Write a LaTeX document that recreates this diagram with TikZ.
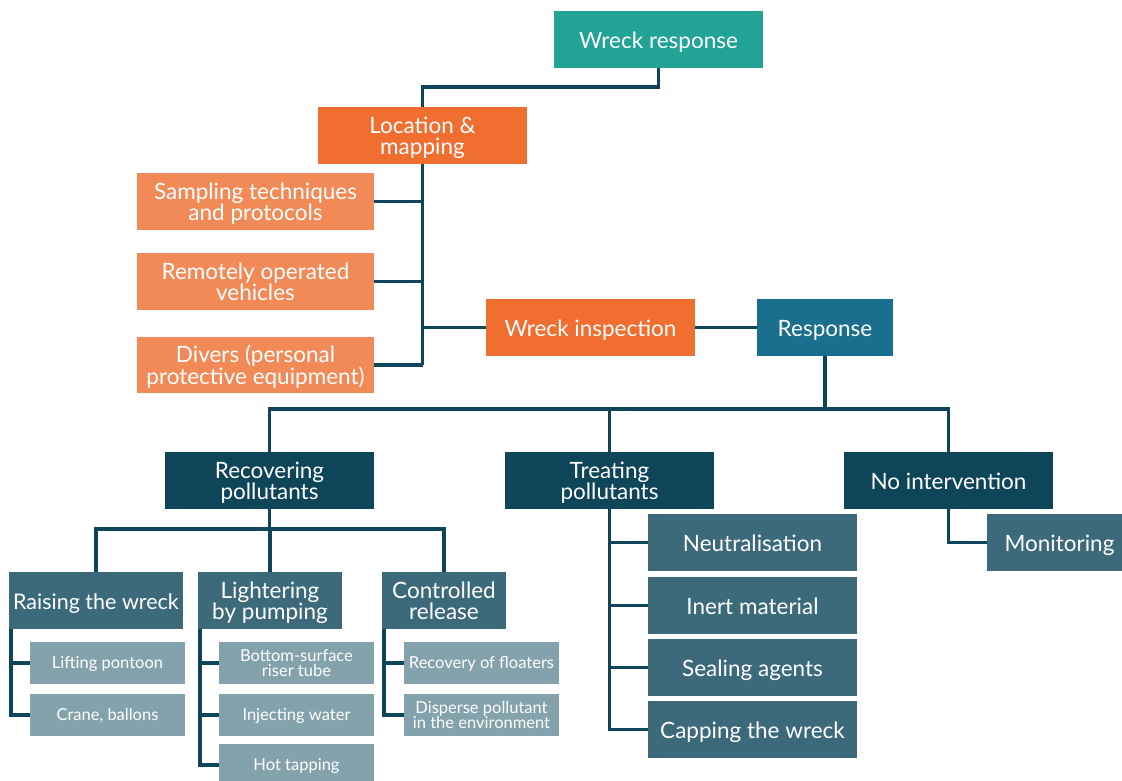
\documentclass[tikz,border=0pt]{standalone}
\usepackage{fontspec}
\setmainfont{Lato}
\definecolor{cteal}{HTML}{21A396}
\definecolor{corange}{HTML}{F06E30}
\definecolor{clorange}{HTML}{F28A58}
\definecolor{cresp}{HTML}{1A6E8E}
\definecolor{cdark}{HTML}{0E4559}
\definecolor{cmid}{HTML}{3D6A7B}
\definecolor{clight}{HTML}{84A2AC}
\definecolor{cline}{HTML}{0E4559}
% struts to place the text slightly below the box centre
\newcommand{\tA}{\rule{0pt}{23pt}}
\newcommand{\tB}{\rule[-6pt]{0pt}{6pt}}
\newcommand{\sA}{\rule{0pt}{16.5pt}}
\newcommand{\sB}{\rule[-5pt]{0pt}{5pt}}
\begin{document}
\begin{tikzpicture}[x=1pt,y=-1pt,
  box/.style={inner sep=0pt, outer sep=0pt, text=white, align=center, font=\fontsize{22.5}{21}\selectfont},
  sbox/.style={box, fill=clight, font=\fontsize{16.5}{15.5}\selectfont},
  sz/.style 2 args={minimum width=#1pt, minimum height=#2pt},
  conn/.style={draw=cline, line width=3.6pt}
]
\useasboundingbox (0,0) rectangle (1122,780);
% top
\node[box, fill=cteal, sz={209}{57}] (wr) at (658.5,39.5) {\tA Wreck response\tB};
\node[box, fill=corange, sz={209}{57}] (loc) at (422.5,135.5) {\tA Location \&\\mapping\tB};
\node[box, fill=clorange, sz={237}{57}] (samp) at (255.5,201.5) {\tA Sampling techniques\\and protocols\tB};
\node[box, fill=clorange, sz={237}{57}] (rov) at (255.5,281.5) {\tA Remotely operated\\vehicles\tB};
\node[box, fill=clorange, sz={237}{56}] (div) at (255.5,365) {\tA Divers (personal\\protective equipment)\tB};
\node[box, fill=corange, sz={209}{57}] (insp) at (590.5,327.5) {\tA Wreck inspection\tB};
\node[box, fill=cresp, sz={136}{57}] (resp) at (825,327.5) {\tA Response\tB};
% second level
\node[box, fill=cdark, sz={209}{57}] (rec) at (269.5,480.5) {\tA Recovering\\pollutants\tB};
\node[box, fill=cdark, sz={209}{57}] (treat) at (609.5,480.5) {\tA Treating\\pollutants\tB};
\node[box, fill=cdark, sz={209}{57}] (noint) at (948.5,480.5) {\tA No intervention\tB};
% third level
\node[box, fill=cmid, sz={174}{57}, font=\fontsize{21.5}{21}\selectfont] (raise) at (96,600.5) {\tA Raising the wreck\tB};
\node[box, fill=cmid, sz={144}{57}] (light) at (270,600.5) {\tA Lightering\\by pumping\tB};
\node[box, fill=cmid, sz={124}{57}] (ctrl) at (444,600.5) {\tA Controlled\\release\tB};
\node[box, fill=cmid, sz={209}{57}] (neut) at (752.5,542.5) {\tA Neutralisation\tB};
\node[box, fill=cmid, sz={209}{57}] (inert) at (752.5,605.5) {\tA Inert material\tB};
\node[box, fill=cmid, sz={209}{57}] (seal) at (752.5,667.5) {\tA Sealing agents\tB};
\node[box, fill=cmid, sz={209}{57}] (cap) at (752.5,729.5) {\tA Capping the wreck\tB};
\node[box, fill=cmid, sz={145}{57}] (mon) at (1059.5,542.5) {\tA Monitoring\tB};
% fourth level
\node[sbox, sz={155}{42}] (lift) at (107.5,663) {\sA Lifting pontoon\sB};
\node[sbox, sz={155}{42}] (crane) at (107.5,715) {\sA Crane, ballons\sB};
\node[sbox, sz={155}{42}] (bott) at (296.5,663) {\sA Bottom-surface\\riser tube\sB};
\node[sbox, sz={155}{42}] (inj) at (296.5,715) {\sA Injecting water\sB};
\node[sbox, sz={155}{42}] (hot) at (296.5,765) {\sA Hot tapping\sB};
\node[sbox, sz={155}{42}] (recov) at (481.5,663) {\sA Recovery of floaters\sB};
\node[sbox, sz={155}{42}] (disp) at (481.5,715) {\sA Disperse pollutant\\in the environment\sB};
% bus coordinates
\coordinate (busA) at (0,87);
\coordinate (busB) at (0,409);
\coordinate (busC) at (0,529);
\coordinate (trA) at (423,0);
% connectors
\draw[conn] (wr.south) -- (wr.south |- busA) -| (loc.north);
\draw[conn] (loc.south) -- (loc.south |- div.east);
\draw[conn] (samp.east) -- (samp.east -| trA);
\draw[conn] (rov.east) -- (rov.east -| trA);
\draw[conn] (div.east) -- (div.east -| trA);
\draw[conn] (insp.west -| trA) -- (insp.west);
\draw[conn] (insp.east) -- (resp.west);
\draw[conn] (resp.south) -- (resp.south |- busB);
\draw[conn] (rec.north) -- (rec.north |- busB) -| (noint.north);
\draw[conn] (treat.north) -- (treat.north |- busB);
\draw[conn] (rec.south) -- (rec.south |- busC);
\draw[conn] (raise.north) -- (raise.north |- busC) -| (ctrl.north);
\draw[conn] (light.north) -- (light.north |- busC);
\draw[conn] ([xshift=2pt]raise.south west) |- (crane.west);
\draw[conn] ([xshift=2pt]raise.south west |- lift.west) -- (lift.west);
\draw[conn] ([xshift=2pt]light.south west) |- (hot.west);
\draw[conn] ([xshift=2pt]light.south west |- bott.west) -- (bott.west);
\draw[conn] ([xshift=2pt]light.south west |- inj.west) -- (inj.west);
\draw[conn] ([xshift=2pt]ctrl.south west) |- (disp.west);
\draw[conn] ([xshift=2pt]ctrl.south west |- recov.west) -- (recov.west);
\draw[conn] (treat.south) |- (cap.west);
\draw[conn] (treat.south |- neut.west) -- (neut.west);
\draw[conn] (treat.south |- inert.west) -- (inert.west);
\draw[conn] (treat.south |- seal.west) -- (seal.west);
\draw[conn] (noint.south) |- (mon.west);
\end{tikzpicture}
\end{document}
